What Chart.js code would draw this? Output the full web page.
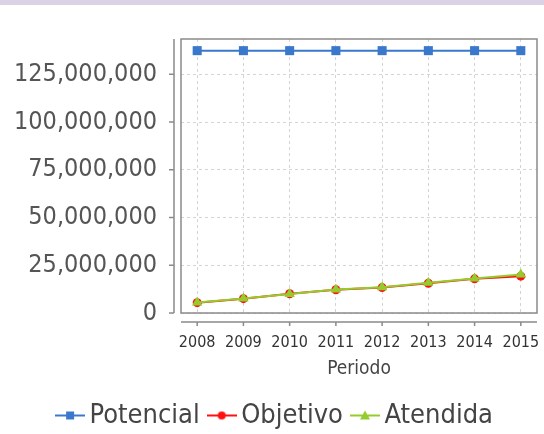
<!DOCTYPE html>
<html lang="es">
<head>
<meta charset="UTF-8">
<title>Potencial / Objetivo / Atendida</title>
<script src="https://cdn.jsdelivr.net/npm/chart.js"></script>
<style>
  html, body { margin: 0; padding: 0; background: #fff; }
  #wrap { position: relative; width: 544px; height: 434px; overflow: hidden; }
  #band { position: absolute; left: 0; top: 0; width: 544px; height: 5px; background: #dbd2e5; }
</style>
</head>
<body>
<div id="wrap">
  <canvas id="chart" width="544" height="439"></canvas>
  <div id="band"></div>
</div>
<script>
// data
const periodos = [2008, 2009, 2010, 2011, 2012, 2013, 2014, 2015];
const potencial = [137400000, 137400000, 137400000, 137400000, 137400000, 137400000, 137400000, 137400000];
const objetivo = [5400000, 7500000, 10100000, 12200000, 13300000, 15600000, 17900000, 19300000];
const atendida = [5500000, 7600000, 10000000, 12300000, 13500000, 15800000, 18100000, 20200000];
const yTicks = [0, 25000000, 50000000, 75000000, 100000000, 125000000];

const FONT = "'DejaVu Sans Condensed', 'Liberation Sans Narrow', 'DejaVu Sans', sans-serif";
const BLUE = '#3a78cc';
const RED = '#ff1010';
const GREEN = '#94cc2e';

function toPoints(values) {
    return values.map((v, i) => ({ x: periodos[i], y: v }));
}

// little line+marker picture for the legend
function legendIcon(color, shape) {
    const c = document.createElement('canvas');
    c.width = 30; c.height = 14;
    const g = c.getContext('2d');
    g.strokeStyle = color;
    g.fillStyle = color;
    g.lineWidth = 2;
    g.beginPath();
    g.moveTo(0, 7); g.lineTo(30, 7);
    g.stroke();
    g.beginPath();
    if (shape === 'rect') {
        g.rect(11, 3, 8, 8);
    } else if (shape === 'circle') {
        g.arc(15, 7, 4, 0, Math.PI * 2);
    } else {
        g.moveTo(15, 2); g.lineTo(20, 11); g.lineTo(10, 11); g.closePath();
    }
    g.fill();
    return c;
}
const icons = [legendIcon(BLUE, 'rect'), legendIcon(RED, 'circle'), legendIcon(GREEN, 'triangle')];

// plot frame plus the detached axis lines with tick marks
const axisFrame = {
    id: 'axisFrame',
    beforeDatasetsDraw(chart) {
        const { ctx, chartArea: a, scales: { x, y } } = chart;
        ctx.save();
        ctx.strokeStyle = '#8a8a8a';
        ctx.lineWidth = 1.5;
        ctx.strokeRect(a.left, a.top, a.right - a.left, a.bottom - a.top);
        ctx.beginPath();
        const ax = a.left - 7;
        ctx.moveTo(ax, a.top); ctx.lineTo(ax, a.bottom);
        y.ticks.forEach(t => {
            const py = y.getPixelForValue(t.value);
            ctx.moveTo(ax - 5, py); ctx.lineTo(ax, py);
        });
        const ay = a.bottom + 9;
        ctx.moveTo(a.left, ay); ctx.lineTo(a.right, ay);
        x.ticks.forEach(t => {
            const px = x.getPixelForValue(t.value);
            ctx.moveTo(px, ay); ctx.lineTo(px, ay + 4);
        });
        ctx.stroke();
        ctx.restore();
    }
};

const ctx = document.getElementById('chart').getContext('2d');
new Chart(ctx, {
    type: 'line',
    data: {
        datasets: [
            {
                label: 'Potencial',
                data: toPoints(potencial),
                borderColor: BLUE,
                backgroundColor: BLUE,
                borderWidth: 2,
                pointStyle: 'rect',
                pointRadius: 6.4,
                pointBorderWidth: 0,
                order: 0
            },
            {
                label: 'Objetivo',
                data: toPoints(objetivo),
                borderColor: RED,
                backgroundColor: RED,
                borderWidth: 2,
                pointStyle: 'circle',
                pointRadius: 4.5,
                pointBorderWidth: 0,
                order: 2
            },
            {
                label: 'Atendida',
                data: toPoints(atendida),
                borderColor: GREEN,
                backgroundColor: GREEN,
                borderWidth: 2,
                pointStyle: 'triangle',
                pointRadius: 6,
                pointBorderWidth: 0,
                order: 1
            }
        ]
    },
    options: {
        responsive: false,
        animation: false,
        layout: { padding: { top: 34, right: 0, left: 13, bottom: 0 } },
        plugins: {
            tooltip: { enabled: false },
            legend: {
                position: 'bottom',
                labels: {
                    usePointStyle: true,
                    pointStyleWidth: 12,
                    padding: 16,
                    color: '#444',
                    font: { family: FONT, size: 27 },
                    generateLabels(chart) {
                        const items = Chart.defaults.plugins.legend.labels.generateLabels(chart);
                        items.sort((a, b) => a.datasetIndex - b.datasetIndex);
                        items.forEach(it => { it.pointStyle = icons[it.datasetIndex]; });
                        return items;
                    }
                }
            }
        },
        scales: {
            x: {
                type: 'linear',
                min: 2007.65,
                max: 2015.35,
                afterBuildTicks(s) { s.ticks = periodos.map(v => ({ value: v })); },
                afterFit(s) {
                    s.height = 73;
                    s.paddingLeft = 0;
                    s.paddingRight = 7;
                },
                ticks: {
                    padding: 20,
                    maxRotation: 0,
                    autoSkip: false,
                    color: '#333',
                    font: { family: FONT, size: 16 },
                    callback: v => String(v)
                },
                title: {
                    display: true,
                    text: 'Periodo',
                    color: '#444',
                    font: { family: FONT, size: 19 },
                    padding: { top: 4, bottom: 6 }
                },
                grid: { drawTicks: false, color: '#d4d4d4', lineWidth: 1 },
                border: { display: false, dash: [3, 3] }
            },
            y: {
                min: 0,
                max: 143500000,
                afterBuildTicks(s) { s.ticks = yTicks.map(v => ({ value: v })); },
                afterFit(s) { s.width = 168; },
                ticks: {
                    padding: 24,
                    color: '#555',
                    font: { family: FONT, size: 25 },
                    callback: v => v.toLocaleString('en-US')
                },
                grid: { drawTicks: false, color: '#d4d4d4', lineWidth: 1 },
                border: { display: false, dash: [3, 3] }
            }
        }
    },
    plugins: [axisFrame]
});
</script>
</body>
</html>
